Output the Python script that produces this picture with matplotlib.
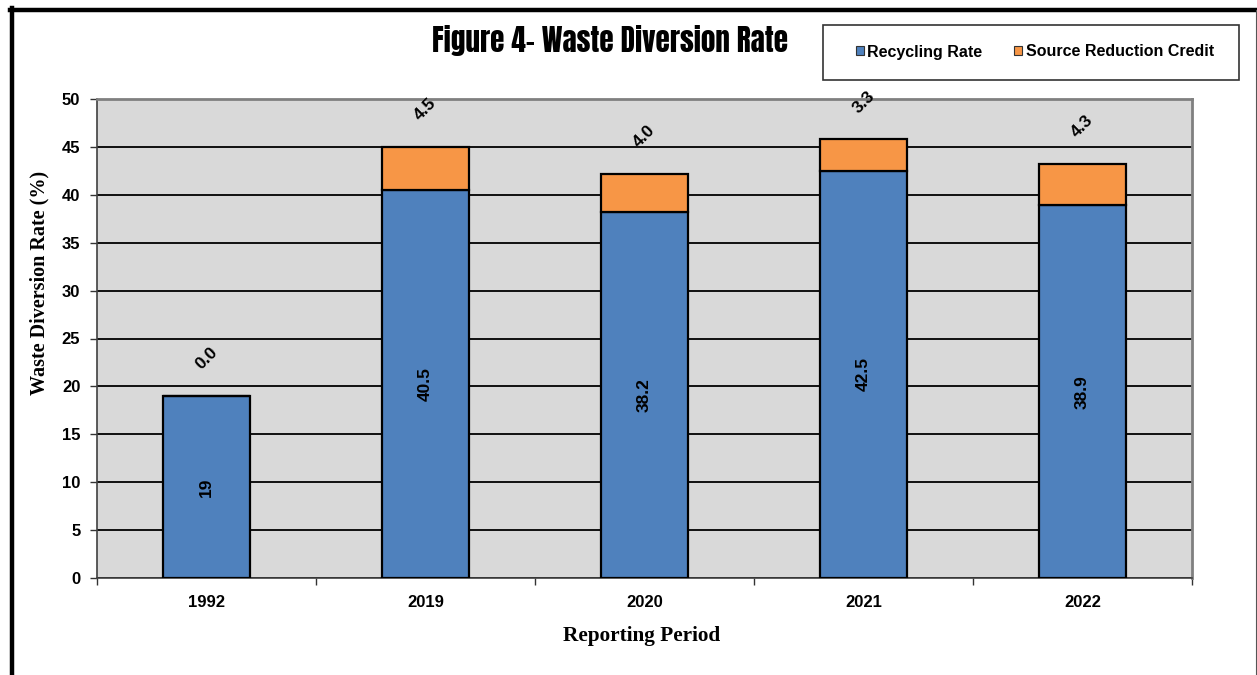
import matplotlib
matplotlib.use("Agg")
import matplotlib.pyplot as plt
import numpy as np
from matplotlib.lines import Line2D
from matplotlib.patches import Rectangle, Patch

categories = ["1992", "2019", "2020", "2021", "2022"]
recycling = [19, 40.5, 38.2, 42.5, 38.9]
source_reduction = [0.0, 4.5, 4.0, 3.3, 4.3]
recycling_labels = ["19", "40.5", "38.2", "42.5", "38.9"]
source_labels = ["0.0", "4.5", "4.0", "3.3", "4.3"]

blue = "#4F81BD"
orange = "#F79646"
sans = ["Liberation Sans", "DejaVu Sans"]

fig = plt.figure(figsize=(12.57, 6.75), dpi=100)
ax = fig.add_axes([97/1257, 1-578/675, (1192-97)/1257, (578-99)/675])
ax.set_facecolor("#D9D9D9")

x = np.arange(len(categories))
w = 0.4
ax.bar(x, recycling, w, color=blue, edgecolor="black", linewidth=1.6, zorder=3)
ax.bar(x, source_reduction, w, bottom=recycling, color=orange, edgecolor="black",
       linewidth=1.6, zorder=3)

for xi, r, s, rl, sl in zip(x, recycling, source_reduction, recycling_labels, source_labels):
    ax.text(xi, r/2, rl, rotation=90, ha="center", va="center", fontsize=12.5,
            fontweight="bold", zorder=4, family=sans)
    ax.text(xi, r + s + 3.9, sl, rotation=45, ha="center", va="center", fontsize=12.5,
            fontweight="bold", zorder=4, family=sans, clip_on=False)

ax.set_xlim(-0.5, len(categories) - 0.5)
ax.set_ylim(0, 50)
ax.set_yticks(np.arange(0, 51, 5))
ax.set_yticklabels([str(v) for v in range(0, 51, 5)], fontsize=12, fontweight="bold",
                   family=sans)
ax.yaxis.grid(True, color="black", linewidth=1.3, zorder=1)
ax.set_axisbelow(True)

ax.set_xticks(x)
ax.set_xticklabels(categories, fontsize=12, fontweight="bold", family=sans)
ax.tick_params(axis="x", which="major", length=0, pad=12)
ax.set_xticks(np.arange(-0.5, len(categories), 1.0), minor=True)
ax.tick_params(axis="x", which="minor", length=5, width=1, color="#333333")
ax.tick_params(axis="y", length=5, width=1, color="#333333", pad=7)

for side in ["top", "right"]:
    ax.spines[side].set_color("#808080")
    ax.spines[side].set_linewidth(2)
ax.spines["left"].set_color("#404040")
ax.spines["left"].set_linewidth(1.2)
ax.spines["bottom"].set_color("#404040")
ax.spines["bottom"].set_linewidth(1.2)

fig.text(39/1257, 1-283/675, "Waste Diversion Rate (%)", rotation=90, ha="center",
         va="center", fontsize=14.5, fontweight="bold",
         family=["Liberation Serif", "DejaVu Serif"])
fig.text(642/1257, 1-636/675, "Reporting Period", ha="center", va="center",
         fontsize=15.3, fontweight="bold", family=["Liberation Serif", "DejaVu Serif"])

fig.text(610/1257, 1-41/675, "Figure 4\u2013 Waste Diversion Rate", ha="center",
         va="center", fontsize=21,
         family=["Anton", "Oswald", "Open Sans Condensed", "DejaVu Sans"])

# legend box
fig.add_artist(Rectangle((823/1257, 1-80/675), (1239-823)/1257, 55/675,
                         transform=fig.transFigure, facecolor="white",
                         edgecolor="#333333", linewidth=1.2))
handles = [Patch(facecolor=blue, edgecolor="#333333", linewidth=0.8),
           Patch(facecolor=orange, edgecolor="#333333", linewidth=0.8)]
leg = fig.legend(handles, ["Recycling Rate", "Source Reduction Credit"], ncol=2,
                 loc="center", bbox_to_anchor=(1035/1257, 1-52/675), frameon=False,
                 handlelength=0.5, handleheight=0.5, handletextpad=0.2,
                 columnspacing=2.0, prop={"size": 11.5, "weight": "bold",
                                          "family": sans})

# page frame
fig.add_artist(Line2D([10/1257, 1], [1-9.5/675, 1-9.5/675], transform=fig.transFigure,
                      color="black", linewidth=3.2))
fig.add_artist(Line2D([12/1257, 12/1257], [0, 1-8/675], transform=fig.transFigure,
                      color="black", linewidth=3.2))
fig.add_artist(Line2D([1255.5/1257, 1255.5/1257], [0, 1-10/675], transform=fig.transFigure,
                      color="#555555", linewidth=0.8))

fig.savefig("out.png", dpi=100)
